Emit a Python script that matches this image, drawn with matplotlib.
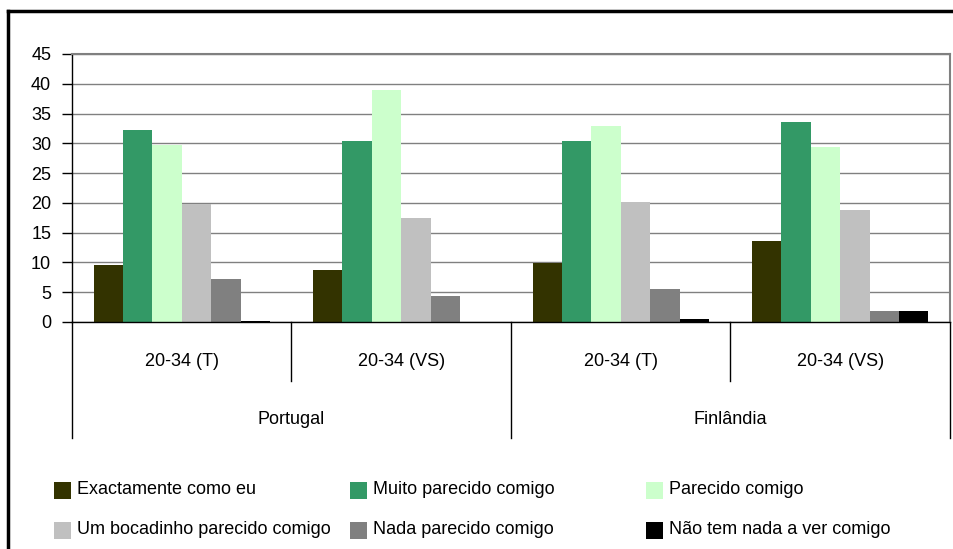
import numpy as np
import matplotlib.pyplot as plt
import matplotlib.transforms as mtransforms
from matplotlib.patches import Rectangle
from matplotlib.lines import Line2D

plt.rcParams['font.family'] = ['Liberation Sans', 'DejaVu Sans']
plt.rcParams['font.size'] = 13

# data
countries = ["Portugal", "Finlândia"]
groups = ["20-34 (T)", "20-34 (VS)", "20-34 (T)", "20-34 (VS)"]
series_names = ["Exactamente como eu", "Muito parecido comigo", "Parecido comigo",
                "Um bocadinho parecido comigo", "Nada parecido comigo",
                "Não tem nada a ver comigo"]
exactamente = [9.6, 8.7, 9.9, 13.6]
muito = [32.2, 30.4, 30.4, 33.6]
parecido = [29.7, 38.9, 32.9, 29.4]
bocadinho = [19.8, 17.4, 20.1, 18.8]
nada = [7.2, 4.4, 5.5, 1.9]
nao_tem = [0.2, 0.0, 0.5, 1.9]
colors = ["#333300", "#339966", "#CCFFCC", "#C0C0C0", "#808080", "#000000"]

series = [exactamente, muito, parecido, bocadinho, nada, nao_tem]

W, H = 954, 549
fig = plt.figure(figsize=(W / 100, H / 100), dpi=100)
fig.patch.set_facecolor("white")

# outer chart frame (only left and top edges are visible)
fig.add_artist(Line2D([8 / W, 8 / W], [0, 1 - 11 / H], color="black", lw=2.5,
                      transform=fig.transFigure))
fig.add_artist(Line2D([8 / W, 1], [1 - 11 / H, 1 - 11 / H], color="black", lw=2.5,
                      transform=fig.transFigure))

ax = fig.add_axes([72 / W, 1 - 322 / H, (950 - 72) / W, (322 - 54) / H])

x = np.arange(len(groups))
w = 0.134
for i, (vals, col) in enumerate(zip(series, colors)):
    ax.bar(x + (i - 2.5) * w, vals, width=w, color=col, linewidth=0, zorder=2)

ax.set_xlim(-0.5, len(groups) - 0.5)
ax.set_ylim(0, 45)
ax.set_yticks(np.arange(0, 46, 5))
ax.set_xticks([])
ax.yaxis.grid(True, color="#808080", lw=1)
ax.set_axisbelow(True)
ax.tick_params(axis="y", length=7, width=1, pad=8, direction="out")
for s in ["left", "bottom"]:
    ax.spines[s].set_color("black")
    ax.spines[s].set_linewidth(1)
for s in ["top", "right"]:
    ax.spines[s].set_color("#808080")
    ax.spines[s].set_linewidth(1.5)
ax.spines["bottom"].set_zorder(3)

# two-level category axis
ah = 322 - 54
trans = mtransforms.blended_transform_factory(ax.transData, ax.transAxes)
y_short = -(381 - 322) / ah
y_long = -(438 - 322) / ah
for k in range(len(groups) + 1):
    xb = k - 0.5
    yend = y_long if k % 2 == 0 else y_short
    ax.plot([xb, xb], [0, yend], color="black", lw=1, transform=trans, clip_on=False)
for k, g in enumerate(groups):
    ax.text(k, -(362 - 322) / ah, g, transform=trans, ha="center", va="center")
for k, c in enumerate(countries):
    ax.text(2 * k + 0.5, -(419 - 322) / ah, c, transform=trans, ha="center", va="center")

# legend laid out in a 3x2 grid like the original
sq_x = [54, 350, 646]
txt_x = [77, 373, 669]
row_y = [490, 530]
sq = 17
for i, (name, col) in enumerate(zip(series_names, colors)):
    r, c = divmod(i, 3)
    cy = row_y[r]
    fig.add_artist(Rectangle((sq_x[c] / W, 1 - (cy + sq / 2) / H), sq / W, sq / H,
                             transform=fig.transFigure, facecolor=col, edgecolor="none"))
    fig.text(txt_x[c] / W, 1 - cy / H, name, va="center", ha="left")

fig.savefig("out.png", dpi=100, facecolor="white")
